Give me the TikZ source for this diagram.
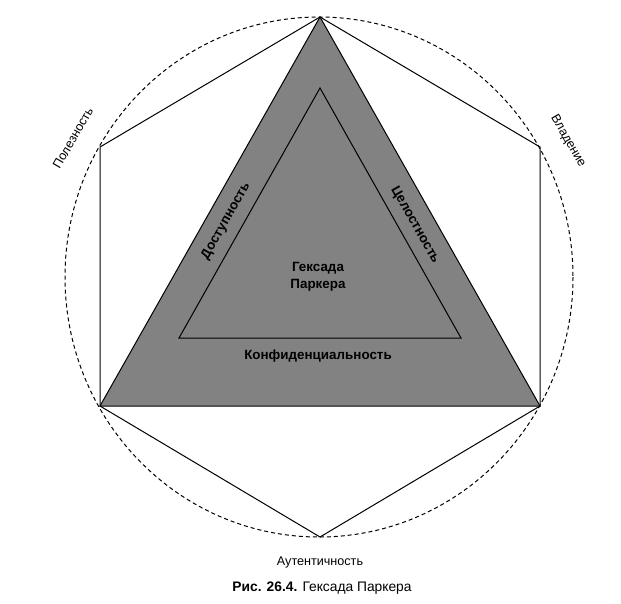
\documentclass[tikz,border=0pt]{standalone}
\usepackage{fontspec}
\setmainfont{Liberation Sans}
\begin{document}
\begin{tikzpicture}[x=1pt,y=-1pt,
  edge/.style={draw=black,line width=1pt},
  lbl/.style={font=\fontsize{12.6}{15}\selectfont},
  blbl/.style={font=\bfseries\fontsize{13.4}{16.5}\selectfont,align=center,inner sep=1pt}]
\useasboundingbox (0,0) rectangle (621,603);
% hexagon vertices
\coordinate (T) at (320,17);
\coordinate (UR) at (540,147);
\coordinate (LR) at (540,406);
\coordinate (B) at (320,537);
\coordinate (LL) at (100,406);
\coordinate (UL) at (100,147);
% circle
\draw[dashed,line width=1pt,dash pattern=on 4pt off 3pt] (319,277) ellipse [x radius=254, y radius=260];
% hexagon
\draw[edge] (T) -- (UR) -- (LR) -- (B) -- (LL) -- (UL) -- cycle;
% gray triangle
\filldraw[edge,fill=black!49] (T) -- (LR) -- (LL) -- cycle;
% inner triangle
\coordinate (IT) at (320,88);
\coordinate (IR) at (461,338);
\coordinate (IL) at (179,338);
\draw[edge] (IT) -- (IR) -- (IL) -- cycle;
% labels
\node[lbl,rotate=60] (pol) at (73,138) {Полезность};
\node[lbl,rotate=-60] (vla) at (568,141) {Владение};
\node[lbl] (aut) at (320,562) {Аутентичность};
\node[font=\fontsize{13.8}{16}\selectfont] (cap) at (322,588) {\textbf{Рис. 26.4.} Гексада Паркера};
\node[blbl,rotate=60.5] (dos) at (226,221) {Доступность};
\node[blbl,rotate=-60.5] (cel) at (415,225) {Целостность};
\node[blbl] (kon) at (318,356) {Конфиденциальность};
\node[blbl] (hex) at (318,277) {Гексада\\Паркера};
\end{tikzpicture}
\end{document}
